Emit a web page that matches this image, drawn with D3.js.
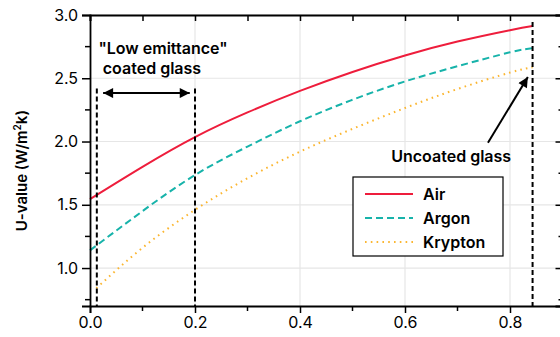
<!DOCTYPE html>
<html>
<head>
<meta charset="utf-8">
<script src="https://cdn.jsdelivr.net/npm/d3@7"></script>
<style>
  html, body { margin: 0; padding: 0; background: #fff; }
  svg { display: block; font-family: Inter, "Liberation Sans", sans-serif; }
</style>
</head>
<body>
<div id="chart"></div>
<script>
// emissivity (x) and U-value (y) readings
const emissivity = [0, 0.1, 0.2, 0.3, 0.4, 0.5, 0.6, 0.7, 0.8, 0.843];
const kryptonEmissivity = [0.012, 0.1, 0.2, 0.3, 0.4, 0.5, 0.6, 0.7, 0.8, 0.843];
const airU = [1.545, 1.80, 2.035, 2.23, 2.40, 2.55, 2.68, 2.79, 2.88, 2.913];
const argonU = [1.14, 1.45, 1.735, 1.96, 2.16, 2.33, 2.475, 2.595, 2.705, 2.737];
const kryptonU = [0.84, 1.16, 1.46, 1.71, 1.92, 2.10, 2.265, 2.415, 2.545, 2.587];

const seriesNames = ['Air', 'Argon', 'Krypton'];
const xTicks = [0, 0.2, 0.4, 0.6, 0.8];
const xMinorTicks = [0.1, 0.3, 0.5, 0.7, 0.9];
const yTicks = [1.0, 1.5, 2.0, 2.5, 3.0];
const yMinorTicks = [0.75, 1.25, 1.75, 2.25, 2.75];

const W = 560, H = 337;
const margin = { top: 15, right: -2.5, bottom: 31, left: 90 };

const svg = d3.select('#chart').append('svg')
  .attr('width', W)
  .attr('height', H);

const x = d3.scaleLinear().domain([0, 0.9]).range([margin.left, W - margin.right]);
const y = d3.scaleLinear().domain([0.7, 3.0]).range([H - margin.bottom, margin.top]);

const colors = ['#ee1d3c', '#17b3aa', '#fbb631'];
const dashes = [null, '7,4', '1.6,4.2'];
const series = [
  { xs: emissivity, ys: airU },
  { xs: emissivity, ys: argonU },
  { xs: kryptonEmissivity, ys: kryptonU }
].map((s, i) => ({ ...s, name: seriesNames[i], color: colors[i], dash: dashes[i] }));

// gridlines
const grid = svg.append('g').attr('stroke', '#e6e6e6').attr('stroke-width', 1.2);
grid.selectAll('line.gx').data(xTicks.slice(1)).join('line')
  .attr('x1', d => x(d)).attr('x2', d => x(d))
  .attr('y1', y(0.7)).attr('y2', y(3.0));
grid.selectAll('line.gy').data(yTicks).join('line')
  .attr('x1', x(0)).attr('x2', x(0.9))
  .attr('y1', d => y(d)).attr('y2', d => y(d));

// curves
const line = d3.line().curve(d3.curveNatural);
svg.append('g').selectAll('path').data(series).join('path')
  .attr('d', s => line(s.xs.map((v, i) => [x(v), y(s.ys[i])])))
  .attr('fill', 'none')
  .attr('stroke', s => s.color)
  .attr('stroke-width', 2)
  .attr('stroke-dasharray', s => s.dash);

// vertical reference lines
const refLines = [
  { e: 0.013, top: 2.42 },
  { e: 0.2, top: 2.42 },
  { e: 0.843, top: 2.945 }
];
svg.append('g').selectAll('line').data(refLines).join('line')
  .attr('x1', d => x(d.e)).attr('x2', d => x(d.e))
  .attr('y1', d => y(d.top)).attr('y2', y(0.7))
  .attr('stroke', '#000')
  .attr('stroke-width', 2)
  .attr('stroke-dasharray', '5,3');

// axes
const bottomAxis = svg.append('g').attr('transform', `translate(0,${y(0.7)})`);
bottomAxis.call(d3.axisBottom(x).tickValues(xTicks).tickFormat(d3.format('.1f')).tickSize(7).tickPadding(4));
bottomAxis.selectAll('.minor').data(xMinorTicks).join('line').attr('class', 'minor')
  .attr('x1', d => x(d)).attr('x2', d => x(d)).attr('y1', 0).attr('y2', 5)
  .attr('stroke', '#000').attr('stroke-width', 1.5);

const leftAxis = svg.append('g').attr('transform', `translate(${x(0)},0)`);
leftAxis.call(d3.axisLeft(y).tickValues(yTicks).tickFormat(d3.format('.1f')).tickSize(8).tickPadding(4));
leftAxis.selectAll('.minor').data(yMinorTicks).join('line').attr('class', 'minor')
  .attr('y1', d => y(d)).attr('y2', d => y(d)).attr('x1', 0).attr('x2', -5)
  .attr('stroke', '#000').attr('stroke-width', 1.5);

const topAxis = svg.append('g').attr('transform', `translate(0,${y(3.0)})`);
topAxis.call(d3.axisTop(x).tickValues(xTicks.concat(xMinorTicks)).tickFormat('').tickSize(-6));

const rightAxis = svg.append('g').attr('transform', `translate(${x(0.9)},0)`);
rightAxis.call(d3.axisRight(y).tickValues(yTicks).tickFormat('').tickSize(-7));
rightAxis.selectAll('.minor').data(yMinorTicks).join('line').attr('class', 'minor')
  .attr('y1', d => y(d)).attr('y2', d => y(d)).attr('x1', 0).attr('x2', -4)
  .attr('stroke', '#000').attr('stroke-width', 1.5);

svg.selectAll('.domain').attr('stroke', '#000').attr('stroke-width', 1.8);
svg.selectAll('.tick line').attr('stroke', '#000').attr('stroke-width', 1.5);
svg.selectAll('.tick text').attr('font-size', 16).attr('fill', '#000')
  .attr('font-family', 'Inter, "Liberation Sans", sans-serif');

// y label
const yLabel = svg.append('text')
  .attr('transform', `translate(27,${y(1.77)}) rotate(-90)`)
  .attr('text-anchor', 'middle')
  .attr('font-size', 15)
  .attr('font-weight', 600);
yLabel.append('tspan').text('U-value (W/m');
yLabel.append('tspan').attr('dy', -6).attr('font-size', 10).text('2');
yLabel.append('tspan').attr('dy', 6).text('k)');

// annotations
const ann = svg.append('g').attr('font-size', 16).attr('font-weight', 600).attr('fill', '#000');
ann.append('text').attr('x', x(0.139)).attr('y', y(2.69)).attr('text-anchor', 'middle').text('"Low emittance"');
ann.append('text').attr('x', x(0.118)).attr('y', y(2.535)).attr('text-anchor', 'middle').text('coated glass');
ann.append('text').attr('x', x(0.688)).attr('y', y(1.835)).attr('text-anchor', 'middle').text('Uncoated glass');

const defs = svg.append('defs');
defs.append('marker').attr('id', 'head')
  .attr('viewBox', '0 0 10 10').attr('refX', 10).attr('refY', 5)
  .attr('markerWidth', 13).attr('markerHeight', 10).attr('markerUnits', 'userSpaceOnUse')
  .attr('orient', 'auto-start-reverse')
  .append('path').attr('d', 'M0,0 L10,5 L0,10 Z').attr('fill', '#000');

svg.append('line')
  .attr('x1', x(0.025)).attr('y1', y(2.383)).attr('x2', x(0.19)).attr('y2', y(2.383))
  .attr('stroke', '#000').attr('stroke-width', 2)
  .attr('marker-start', 'url(#head)').attr('marker-end', 'url(#head)');

svg.append('line')
  .attr('x1', x(0.758)).attr('y1', y(1.99)).attr('x2', x(0.834)).attr('y2', y(2.51))
  .attr('stroke', '#000').attr('stroke-width', 2)
  .attr('marker-end', 'url(#head)');

// legend
const legend = svg.append('g').attr('transform', 'translate(353,177)');
legend.append('rect').attr('width', 150).attr('height', 79)
  .attr('fill', '#fff').attr('stroke', '#000').attr('stroke-width', 1.2);
const item = legend.selectAll('g.item').data(series).join('g')
  .attr('transform', (d, i) => `translate(0,${17 + i * 24})`);
item.append('line').attr('x1', 12).attr('x2', 60)
  .attr('stroke', d => d.color).attr('stroke-width', 2)
  .attr('stroke-dasharray', d => d.dash);
item.append('text').attr('x', 70).attr('dy', '0.35em')
  .attr('font-size', 16).attr('font-weight', 600).text(d => d.name);
</script>
</body>
</html>
